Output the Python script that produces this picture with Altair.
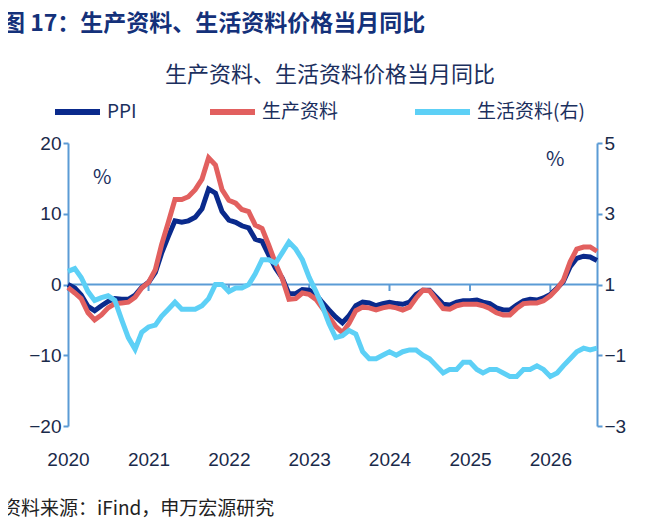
import pandas as pd
import altair as alt

ppi = [0.0, -0.5, -1.5, -3.1, -3.7, -3.0, -2.4, -2.0, -2.1, -2.1, -1.5, -0.4,
       0.3, 1.7, 4.4, 6.8, 9.0, 8.8, 9.0, 9.5, 10.7, 13.5, 12.9, 10.3,
       9.1, 8.8, 8.3, 8.0, 6.4, 6.1, 4.2, 2.3, 0.9, -1.3, -1.3, -0.7,
       -0.8, -1.4, -2.5, -3.6, -4.6, -5.4, -4.4, -3.0, -2.5, -2.6, -3.0, -2.7,
       -2.5, -2.7, -2.8, -2.5, -1.4, -0.8, -0.8, -1.8, -2.8, -2.9, -2.5, -2.3,
       -2.3, -2.2, -2.5, -2.7, -3.3, -3.6, -3.6, -2.9, -2.3, -2.1, -2.2, -1.9,
       -1.4, -0.5, 0.4, 2.5, 3.7, 4.0, 3.9, 3.4]
shengchan = [-0.4, -1.2, -2.0, -4.0, -5.0, -4.3, -3.3, -2.7, -2.6, -2.5, -1.8, -0.5,
             0.3, 2.1, 5.6, 8.8, 12.0, 12.0, 12.4, 13.4, 14.9, 17.9, 16.9, 13.4,
             11.9, 11.5, 10.6, 10.3, 8.4, 7.9, 5.6, 3.0, 0.8, -2.1, -2.0, -1.2,
             -1.4, -2.1, -3.3, -4.6, -5.9, -6.8, -5.5, -3.7, -3.2, -3.3, -3.6, -3.3,
             -3.1, -3.3, -3.6, -3.2, -1.9, -0.8, -0.9, -2.2, -3.4, -3.5, -3.0, -2.8,
             -2.8, -2.8, -3.0, -3.4, -4.0, -4.3, -4.3, -3.4, -2.7, -2.6, -2.6, -2.3,
             -1.6, -0.6, 0.6, 3.2, 5.0, 5.3, 5.3, 4.7]
shenghuo = [1.37, 1.45, 1.2, 0.8, 0.55, 0.63, 0.68, 0.55, 0.0, -0.5, -0.83, -0.35,
            -0.2, -0.15, 0.1, 0.3, 0.5, 0.3, 0.3, 0.3, 0.4, 0.6, 1.0, 1.0,
            0.8, 0.9, 0.9, 1.0, 1.3, 1.7, 1.7, 1.6, 1.9, 2.2, 2.0, 1.7,
            1.2, 0.8, 0.4, -0.1, -0.5, -0.45, -0.3, -0.4, -0.9, -1.1, -1.1, -1.0,
            -0.9, -1.0, -0.9, -0.85, -0.85, -1.0, -1.1, -1.3, -1.5, -1.4, -1.4, -1.2,
            -1.2, -1.4, -1.5, -1.4, -1.4, -1.5, -1.6, -1.6, -1.4, -1.4, -1.3, -1.4,
            -1.6, -1.5, -1.3, -1.1, -0.9, -0.8, -0.85, -0.8]
years = ["2020", "2021", "2022", "2023", "2024", "2025", "2026"]

dates = pd.date_range("2020-01-01", periods=len(ppi), freq="MS")
df = pd.DataFrame({"date": dates, "PPI": ppi, "生产资料": shengchan, "生活资料(右)": shenghuo})
left = df.melt(id_vars="date", value_vars=["PPI", "生产资料"], var_name="s", value_name="v")
yr = pd.DataFrame({"date": pd.to_datetime([y + "-01-01" for y in years])})

AX = "#5b9bd5"
FONT = "Noto Sans CJK SC"
xenc = alt.X("date:T", scale=alt.Scale(domain=["2020-01-01", "2026-08-01"]),
             axis=alt.Axis(format="%Y", tickCount=alt.TimeIntervalStep(interval="year", step=1),
                           domain=False, ticks=False, labelFontSize=19, labelColor="#1a2a4a",
                           labelFont="Liberation Sans", labelPadding=24, labelAlign="center",
                           grid=False, title=None))
yl = alt.Scale(domain=[-20, 20], nice=False)

zero = alt.Chart(pd.DataFrame({"z": [0]})).mark_rule(color=AX, strokeWidth=2).encode(y=alt.Y("z:Q", scale=yl))
yticks = alt.Chart(yr).mark_rule(color=AX, strokeWidth=2).encode(
    x=alt.X("date:T"), y=alt.value(142), y2=alt.value(148))
lines = alt.Chart(left).mark_line(strokeWidth=5).encode(
    x=xenc,
    y=alt.Y("v:Q", scale=yl, axis=alt.Axis(values=[-20, -10, 0, 10, 20], grid=False, domainColor=AX,
                                           domainWidth=2, tickColor=AX, tickWidth=2, labelFontSize=19,
                                           labelColor="#1a2a4a", labelFont="Liberation Sans", title=None)),
    color=alt.Color("s:N", scale=alt.Scale(domain=["PPI", "生产资料"], range=["#0a2a8c", "#e2605f"]), legend=None),
    order=alt.Order("s:N", sort="descending"))
leftlayer = alt.layer(zero, yticks, lines)

right = alt.Chart(df).mark_line(strokeWidth=5, color="#5dd0f6").encode(
    x=alt.X("date:T"),
    y=alt.Y("生活资料(右):Q", scale=alt.Scale(domain=[-3, 5], nice=False),
            axis=alt.Axis(orient="right", values=[-3, -1, 1, 3, 5], grid=False, domainColor=AX,
                          domainWidth=2, tickColor=AX, tickWidth=2, labelFontSize=19,
                          labelColor="#1a2a4a", labelFont="Liberation Sans", title=None)))

def txt(s, x, y, size=19, color="#222", weight="normal", align="left"):
    return alt.Chart(pd.DataFrame({"t": [s]})).mark_text(
        font=FONT, fontSize=size, color=color, fontWeight=weight, align=align, baseline="middle"
    ).encode(text="t:N", x=alt.value(x), y=alt.value(y))

def leg(x1, x2, color):
    return alt.Chart(pd.DataFrame({"a": [0]})).mark_rule(strokeWidth=6, color=color).encode(
        x=alt.value(x1), x2=alt.value(x2), y=alt.value(-31))

deco = alt.layer(
    txt("图 17：生产资料、生活资料价格当月同比", -66, -119, 23, "#14317a", "bold"),
    txt("生产资料、生活资料价格当月同比", 262, -68, 22, "#1b2f5e", align="center"),
    leg(-13, 32, "#0a2a8c"), txt("PPI", 39, -31, 19, "#1b2f5e"),
    leg(142, 187, "#e2605f"), txt("生产资料", 194, -31, 19, "#1b2f5e"),
    leg(347, 402, "#5dd0f6"), txt("生活资料(右)", 409, -31, 19, "#1b2f5e"),
    txt("%", 25, 35, 20, "#1b2f5e"), txt("%", 478, 17, 20, "#1b2f5e"),
    txt("资料来源：iFind，申万宏源研究", -66, 366, 19, "#222"),
)

chart = alt.layer(leftlayer, right, deco).resolve_scale(y="independent").properties(
    width=529, height=283, autosize=alt.AutoSizeParams(type="none"),
    padding={"left": 60, "top": 135, "right": 55, "bottom": 94}
).configure_view(stroke=None)

chart.save("out.html", embed_options={"renderer": "svg", "actions": False})
